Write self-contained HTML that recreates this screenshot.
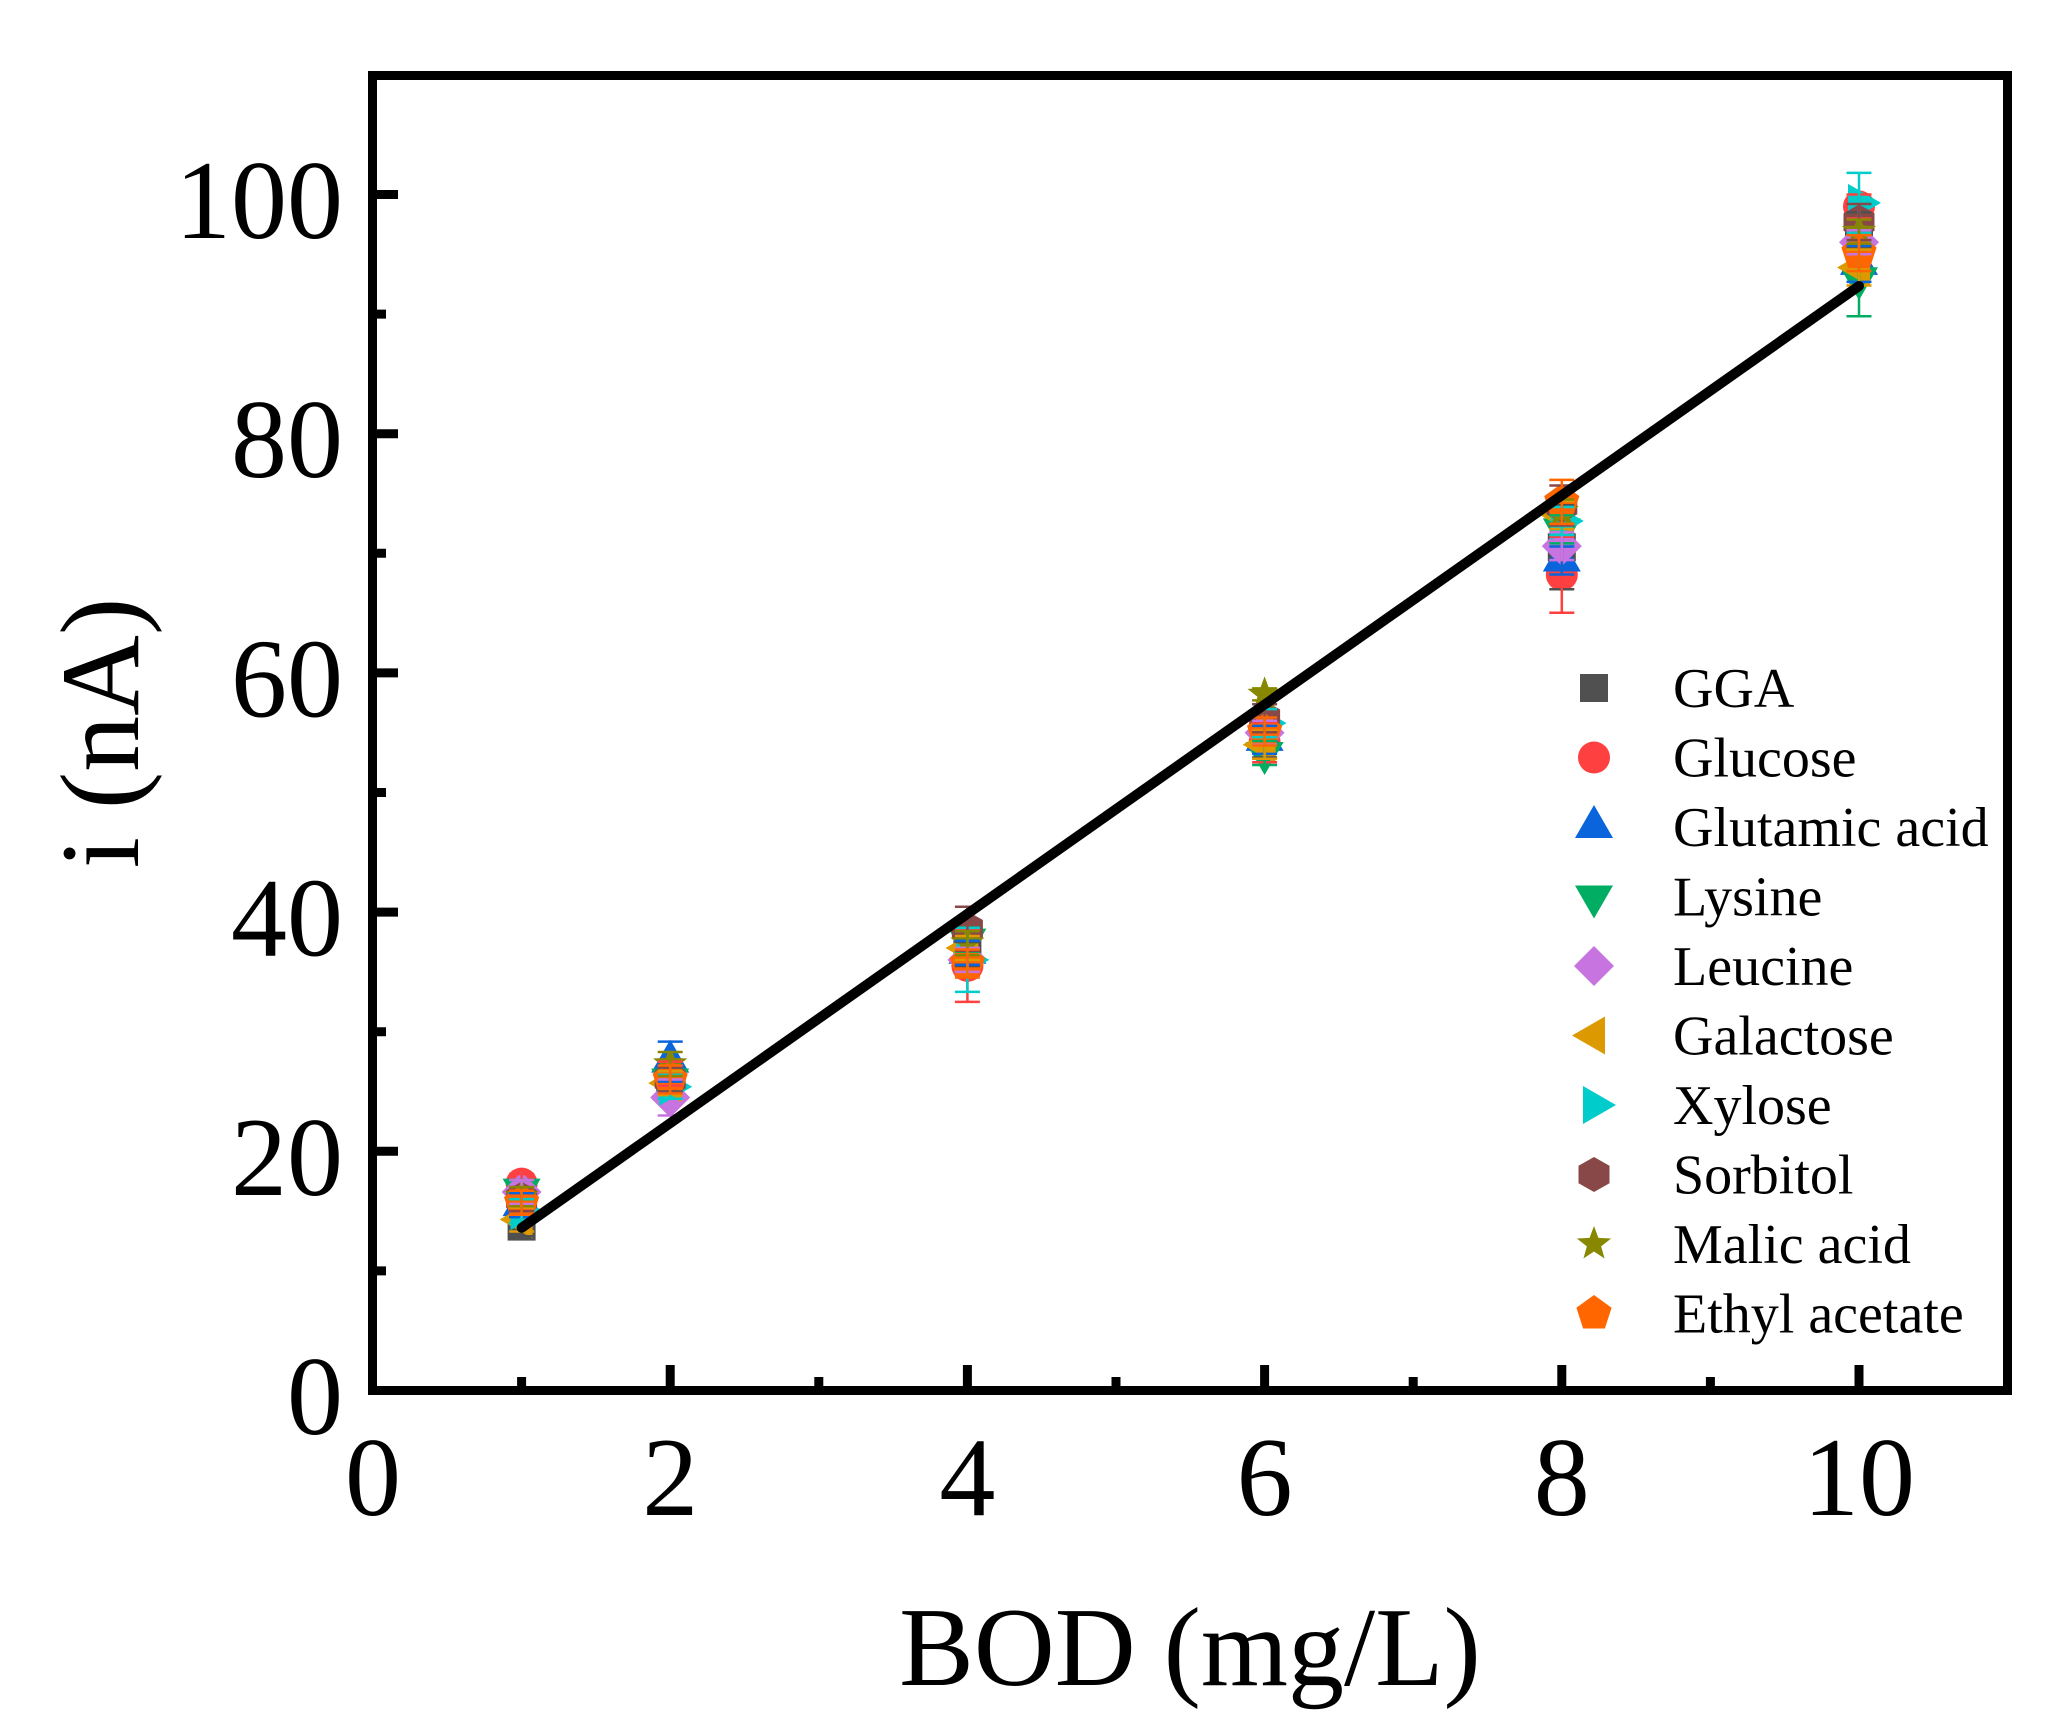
<!DOCTYPE html>
<html><head><meta charset="utf-8"><style>
html,body{margin:0;padding:0;background:#fff;}
svg{display:block;}
text{font-family:"Liberation Serif","Times New Roman",serif;fill:#000;}
</style></head><body>
<svg xmlns="http://www.w3.org/2000/svg" width="2068" height="1721" viewBox="0 0 2068 1721">
<defs>
<rect id="sq" x="-14" y="-14" width="28" height="28"/>
<circle id="ci" r="16"/>
<polygon id="tu" points="0,-22 -19,11 19,11"/>
<polygon id="td" points="0,22 -19,-11 19,-11"/>
<polygon id="di" points="0,-20 20,0 0,20 -20,0"/>
<polygon id="tl" points="-22,0 11,-19 11,19"/>
<polygon id="tr" points="22,0 -11,-19 -11,19"/>
<polygon id="hx" points="0,-17.5 15.5,-8.75 15.5,8.75 0,17.5 -15.5,8.75 -15.5,-8.75"/>
<polygon id="st" points="0,-18 4.41,-6.07 17.12,-5.56 7.13,2.32 10.58,14.56 0,7.5 -10.58,14.56 -7.13,2.32 -17.12,-5.56 -4.41,-6.07"/>
<polygon id="pe" points="0,-18.5 17.59,-5.72 10.87,14.97 -10.87,14.97 -17.59,-5.72"/>
</defs>
<rect width="2068" height="1721" fill="#fff"/>

<!-- markers -->
<g fill="#505050">
<use href="#sq" x="521.6" y="1226.6"/><use href="#sq" x="670.2" y="1079.5"/><use href="#sq" x="967.4" y="954"/><use href="#sq" x="1264.6" y="737.5"/><use href="#sq" x="1561.8" y="547.3"/><use href="#sq" x="1859" y="230.4"/>
</g>
<g fill="#FF4040">
<use href="#ci" x="521.6" y="1183.6"/><use href="#ci" x="670.2" y="1073.6"/><use href="#ci" x="967.4" y="965.9"/><use href="#ci" x="1264.6" y="742.3"/><use href="#ci" x="1561.8" y="574.8"/><use href="#ci" x="1859" y="206.5"/>
</g>
<g fill="#0A64DC">
<use href="#tu" x="521.6" y="1205.1"/><use href="#tu" x="670.2" y="1061.6"/><use href="#tu" x="967.4" y="952.8"/><use href="#tu" x="1264.6" y="739.9"/><use href="#tu" x="1561.8" y="560.5"/><use href="#tu" x="1859" y="263.9"/>
</g>
<g fill="#00AD62">
<use href="#td" x="521.6" y="1189.6"/><use href="#td" x="670.2" y="1079.5"/><use href="#td" x="967.4" y="939.6"/><use href="#td" x="1264.6" y="753"/><use href="#td" x="1561.8" y="529.4"/><use href="#td" x="1859" y="278.2"/>
</g>
<g fill="#C774E0">
<use href="#di" x="521.6" y="1192"/><use href="#di" x="670.2" y="1097.5"/><use href="#di" x="967.4" y="959.9"/><use href="#di" x="1264.6" y="732.7"/><use href="#di" x="1561.8" y="546.1"/><use href="#di" x="1859" y="242.3"/>
</g>
<g fill="#DD9A00">
<use href="#tl" x="521.6" y="1219.5"/><use href="#tl" x="670.2" y="1083.1"/><use href="#tl" x="967.4" y="948"/><use href="#tl" x="1264.6" y="744.7"/><use href="#tl" x="1561.8" y="515"/><use href="#tl" x="1859" y="267.5"/>
</g>
<g fill="#00CCCC">
<use href="#tr" x="521.6" y="1211.1"/><use href="#tr" x="670.2" y="1086.7"/><use href="#tr" x="967.4" y="959.9"/><use href="#tr" x="1264.6" y="723.1"/><use href="#tr" x="1561.8" y="521"/><use href="#tr" x="1859" y="202.9"/>
</g>
<g fill="#884848">
<use href="#hx" x="521.6" y="1199.1"/><use href="#hx" x="670.2" y="1079.5"/><use href="#hx" x="967.4" y="928.8"/><use href="#hx" x="1264.6" y="718.3"/><use href="#hx" x="1561.8" y="505.5"/><use href="#hx" x="1859" y="222"/>
</g>
<g fill="#888800">
<use href="#st" x="521.6" y="1196.7"/><use href="#st" x="670.2" y="1064"/><use href="#st" x="967.4" y="943.2"/><use href="#st" x="1264.6" y="694.4"/><use href="#st" x="1561.8" y="511.5"/><use href="#st" x="1859" y="231.6"/>
</g>
<g fill="#FF6600">
<use href="#pe" x="521.6" y="1202.7"/><use href="#pe" x="670.2" y="1079.5"/><use href="#pe" x="967.4" y="963.5"/><use href="#pe" x="1264.6" y="731.5"/><use href="#pe" x="1561.8" y="501.9"/><use href="#pe" x="1859" y="253.1"/>
</g>

<!-- error bars -->
<g fill="none" stroke-width="2.5">
<path stroke="#505050" d="M521.6 1217V1236.2M509.1 1217h25M509.1 1236.2h25M670.2 1067.5V1091.5M657.7 1067.5h25M657.7 1091.5h25M967.4 942V966M954.9 942h25M954.9 966h25M1264.6 717.5V757.5M1252.1 717.5h25M1252.1 757.5h25M1561.8 505.3V589.3M1549.3 505.3h25M1549.3 589.3h25M1859 212.4V248.4M1846.5 212.4h25M1846.5 248.4h25"/>
<path stroke="#FF4040" d="M521.6 1174V1193.2M509.1 1174h25M509.1 1193.2h25M670.2 1061.6V1085.6M657.7 1061.6h25M657.7 1085.6h25M967.4 929.9V1001.9M954.9 929.9h25M954.9 1001.9h25M1264.6 722.3V762.3M1252.1 722.3h25M1252.1 762.3h25M1561.8 536.8V612.8M1549.3 536.8h25M1549.3 612.8h25M1859 194.5V218.5M1846.5 194.5h25M1846.5 218.5h25"/>
<path stroke="#0A64DC" d="M521.6 1193.1V1217.1M509.1 1193.1h25M509.1 1217.1h25M670.2 1041.6V1081.6M657.7 1041.6h25M657.7 1081.6h25M967.4 940.8V964.8M954.9 940.8h25M954.9 964.8h25M1264.6 725.9V753.9M1252.1 725.9h25M1252.1 753.9h25M1561.8 546.5V574.5M1549.3 546.5h25M1549.3 574.5h25M1859 245.9V281.9M1846.5 245.9h25M1846.5 281.9h25"/>
<path stroke="#00AD62" d="M521.6 1180V1199.2M509.1 1180h25M509.1 1199.2h25M670.2 1067.5V1091.5M657.7 1067.5h25M657.7 1091.5h25M967.4 927.6V951.6M954.9 927.6h25M954.9 951.6h25M1264.6 741V765M1252.1 741h25M1252.1 765h25M1561.8 515.4V543.4M1549.3 515.4h25M1549.3 543.4h25M1859 240.2V316.2M1846.5 240.2h25M1846.5 316.2h25"/>
<path stroke="#C774E0" d="M521.6 1180V1204M509.1 1180h25M509.1 1204h25M670.2 1079.5V1115.5M657.7 1079.5h25M657.7 1115.5h25M967.4 947.9V971.9M954.9 947.9h25M954.9 971.9h25M1264.6 720.7V744.7M1252.1 720.7h25M1252.1 744.7h25M1561.8 532.1V560.1M1549.3 532.1h25M1549.3 560.1h25M1859 230.3V254.3M1846.5 230.3h25M1846.5 254.3h25"/>
<path stroke="#DD9A00" d="M521.6 1207.5V1231.5M509.1 1207.5h25M509.1 1231.5h25M670.2 1071.1V1095.1M657.7 1071.1h25M657.7 1095.1h25M967.4 936V960M954.9 936h25M954.9 960h25M1264.6 730.7V758.7M1252.1 730.7h25M1252.1 758.7h25M1561.8 501V529M1549.3 501h25M1549.3 529h25M1859 249.5V285.5M1846.5 249.5h25M1846.5 285.5h25"/>
<path stroke="#00CCCC" d="M521.6 1199.1V1223.1M509.1 1199.1h25M509.1 1223.1h25M670.2 1074.7V1098.7M657.7 1074.7h25M657.7 1098.7h25M967.4 927.9V991.9M954.9 927.9h25M954.9 991.9h25M1264.6 709.1V737.1M1252.1 709.1h25M1252.1 737.1h25M1561.8 507V535M1549.3 507h25M1549.3 535h25M1859 172.9V232.9M1846.5 172.9h25M1846.5 232.9h25"/>
<path stroke="#884848" d="M521.6 1187.1V1211.1M509.1 1187.1h25M509.1 1211.1h25M670.2 1067.5V1091.5M657.7 1067.5h25M657.7 1091.5h25M967.4 906.8V950.8M954.9 906.8h25M954.9 950.8h25M1264.6 704.3V732.3M1252.1 704.3h25M1252.1 732.3h25M1561.8 485.5V525.5M1549.3 485.5h25M1549.3 525.5h25M1859 204V240M1846.5 204h25M1846.5 240h25"/>
<path stroke="#888800" d="M521.6 1187.1V1206.3M509.1 1187.1h25M509.1 1206.3h25M670.2 1052V1076M657.7 1052h25M657.7 1076h25M967.4 931.2V955.2M954.9 931.2h25M954.9 955.2h25M1264.6 688.4V700.4M1252.1 688.4h25M1252.1 700.4h25M1561.8 499.5V523.5M1549.3 499.5h25M1549.3 523.5h25M1859 219.6V243.6M1846.5 219.6h25M1846.5 243.6h25"/>
<path stroke="#FF6600" d="M521.6 1190.7V1214.7M509.1 1190.7h25M509.1 1214.7h25M670.2 1065.5V1093.5M657.7 1065.5h25M657.7 1093.5h25M967.4 949.5V977.5M954.9 949.5h25M954.9 977.5h25M1264.6 717.5V745.5M1252.1 717.5h25M1252.1 745.5h25M1561.8 479.9V523.9M1549.3 479.9h25M1549.3 523.9h25M1859 235.1V271.1M1846.5 235.1h25M1846.5 271.1h25"/>
</g>

<!-- fit line -->
<path d="M521.6 1227.8L1859 286" stroke="#000" stroke-width="10" stroke-linecap="round" fill="none"/>

<!-- frame -->
<rect x="372.5" y="75.5" width="1635" height="1315" fill="none" stroke="#000" stroke-width="9"/>

<!-- ticks -->
<g stroke="#000" stroke-width="9" fill="none">
<path d="M377 1151.3h21M377 912.1h21M377 672.9h21M377 433.7h21M377 194.5h21"/>
<path d="M377 1270.9h9M377 1031.7h9M377 792.5h9M377 553.3h9M377 314.1h9"/>
<path d="M670.2 1386v-21M967.4 1386v-21M1264.6 1386v-21M1561.8 1386v-21M1859 1386v-21"/>
<path d="M521.6 1386v-9M818.8 1386v-9M1116 1386v-9M1413.2 1386v-9M1710.4 1386v-9"/>
</g>

<!-- tick labels -->
<g font-size="112" text-anchor="end">
<text x="343" y="1434">0</text>
<text x="343" y="1194.8">20</text>
<text x="343" y="955.6">40</text>
<text x="343" y="716.4">60</text>
<text x="343" y="477.2">80</text>
<text x="343" y="238">100</text>
</g>
<g font-size="112" text-anchor="middle">
<text x="373" y="1515">0</text>
<text x="670.2" y="1515">2</text>
<text x="967.4" y="1515">4</text>
<text x="1264.6" y="1515">6</text>
<text x="1561.8" y="1515">8</text>
<text x="1859" y="1515">10</text>
</g>

<!-- axis titles -->
<text x="1190" y="1685" font-size="112" text-anchor="middle">BOD (mg/L)</text>
<text transform="translate(138,733) rotate(-90)" font-size="112" text-anchor="middle">i (nA)</text>

<!-- legend -->
<use href="#sq" x="1594" y="688" fill="#505050"/>
<use href="#ci" x="1594" y="757.5" fill="#FF4040"/>
<use href="#tu" x="1594" y="827" fill="#0A64DC"/>
<use href="#td" x="1594" y="896.5" fill="#00AD62"/>
<use href="#di" x="1594" y="966" fill="#C774E0"/>
<use href="#tl" x="1594" y="1035.5" fill="#DD9A00"/>
<use href="#tr" x="1594" y="1105" fill="#00CCCC"/>
<use href="#hx" x="1594" y="1174.5" fill="#884848"/>
<use href="#st" x="1594" y="1244" fill="#888800"/>
<use href="#pe" x="1594" y="1313.5" fill="#FF6600"/>
<g font-size="56">
<text x="1673" y="707">GGA</text>
<text x="1673" y="776.5">Glucose</text>
<text x="1673" y="846">Glutamic acid</text>
<text x="1673" y="915.5">Lysine</text>
<text x="1673" y="985">Leucine</text>
<text x="1673" y="1054.5">Galactose</text>
<text x="1673" y="1124">Xylose</text>
<text x="1673" y="1193.5">Sorbitol</text>
<text x="1673" y="1263">Malic acid</text>
<text x="1673" y="1332.5">Ethyl acetate</text>
</g>
</svg>
</body></html>
